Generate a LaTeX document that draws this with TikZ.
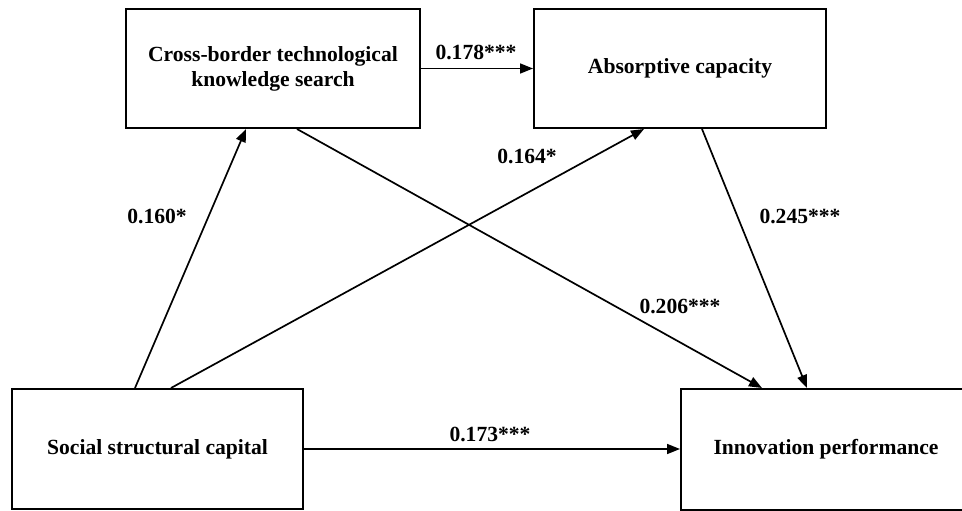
\documentclass[tikz,border=0pt]{standalone}
\usepackage{fontspec}
\setmainfont{Liberation Serif}
\usetikzlibrary{arrows.meta}
\tikzset{
  box/.style={draw, line width=2pt, inner sep=0pt, align=center,
    font=\fontsize{21.6}{25}\selectfont\bfseries},
  lbl/.style={inner sep=0pt, font=\fontsize{21.6}{25}\selectfont\bfseries},
  arr/.style={line width=1.7pt, -{Triangle[length=13pt,width=10pt]}}
}
\begin{document}
\begin{tikzpicture}[x=1pt,y=-1pt]
\useasboundingbox (0,0) rectangle (962,511);
\clip (0,0) rectangle (962,511);
\node[box, minimum width=294pt, minimum height=119pt] (b1) at (273,68.5) {Cross-border technological\\knowledge search};
\node[box, minimum width=292pt, minimum height=119pt] (b2) at (680,68.5) {Absorptive capacity};
\node[box, minimum width=291pt, minimum height=120pt] (b3) at (157.5,449) {Social structural capital};
\node[box, minimum width=290pt, minimum height=121pt] (b4) at (826,449.5) {Innovation performance};

\draw[arr] (b1.east) -- (b1.east -| b2.west);
\draw[arr] (b3.east) -- (b3.east -| b4.west);
\draw[arr] ([xshift=124pt]b3.north west) -- ([xshift=121pt]b1.south west);
\draw[arr] ([xshift=160pt]b3.north west) -- ([xshift=111pt]b2.south west);
\draw[arr] ([xshift=172pt]b1.south west) -- ([xshift=82pt]b4.north west);
\draw[arr] ([xshift=169pt]b2.south west) -- ([xshift=127pt]b4.north west);

\node[lbl] (l1) at (476,52) {0.178***};
\node[lbl] (l2) at (490,434) {0.173***};
\node[lbl] (l3) at (157,216) {0.160*};
\node[lbl] (l4) at (527,156) {0.164*};
\node[lbl] (l5) at (680,306) {0.206***};
\node[lbl] (l6) at (800,216) {0.245***};
\end{tikzpicture}
\end{document}
